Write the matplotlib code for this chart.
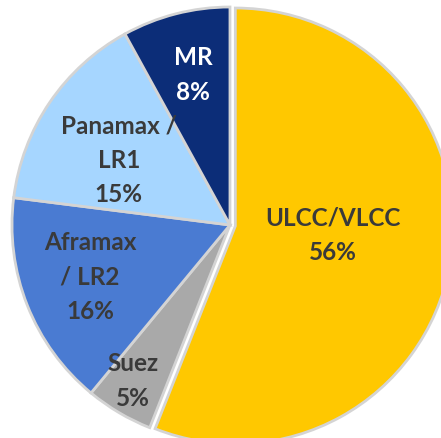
import matplotlib.pyplot as plt

# tanker fleet share by class
classes = ['ULCC/VLCC', 'Suez', 'Aframax\n/ LR2', 'Panamax /\nLR1', 'MR']
shares = [56, 5, 16, 15, 8]
colors = ['#FFC800', '#A9A9A9', '#4A7BD2', '#A6D6FF', '#0C2D78']
text_colors = ['#3A3A3A', '#3A3A3A', '#3A3A3A', '#3A3A3A', 'white']
explode = [0.025, 0, 0, 0, 0]
# label spots inside each wedge (data units, radius = 1)
label_xy = [(0.472, -0.046), (-0.445, -0.716), (-0.642, -0.239),
            (-0.510, 0.298), (-0.170, 0.688)]

fig = plt.figure(figsize=(4.41, 4.38), dpi=100)
ax = fig.add_axes([0, 0, 1, 1])

wedges, _ = ax.pie(shares, colors=colors, startangle=90, counterclock=False,
                   explode=explode, radius=1,
                   wedgeprops=dict(edgecolor='#D4D4D4', linewidth=2))

for i in range(len(classes)):
    ax.text(label_xy[i][0], label_xy[i][1], '%s\n%d%%' % (classes[i], shares[i]),
            ha='center', va='center', fontsize=17.5, fontweight='bold',
            family='Lato', color=text_colors[i], linespacing=1.6)

ax.set_xlim(-1.055, 0.968)
ax.set_ylim(-0.977, 1.032)
ax.set_aspect('equal')
ax.axis('off')

fig.savefig('out.png', dpi=100)
